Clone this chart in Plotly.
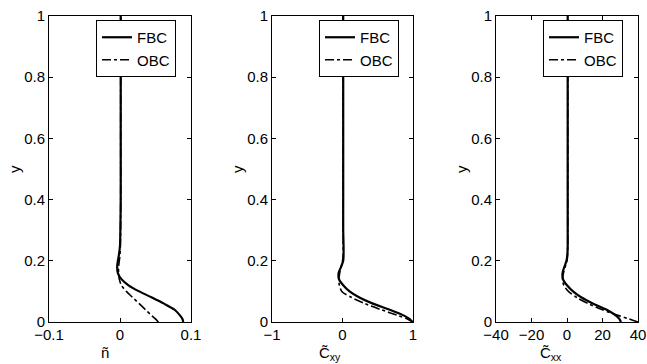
import plotly.graph_objects as go

# ---- data ----
y_vals = [0, 0.01, 0.02, 0.04, 0.06, 0.08, 0.10, 0.12, 0.14, 0.16, 0.18, 0.20,
          0.22, 0.25, 0.30, 0.40, 0.60, 0.80, 1.00]

n_fbc = [0.089, 0.088, 0.085, 0.077, 0.062, 0.045, 0.027, 0.012, 0.002, -0.003,
         -0.004, -0.003, -0.0015, 0.0, 0.0005, 0.001, 0.001, 0.001, 0.001]
n_obc = [0.054, 0.050, 0.045, 0.036, 0.027, 0.018, 0.009, 0.002, -0.001, -0.002,
         -0.002, -0.001, 0.0, 0.0005, 0.0008, 0.001, 0.001, 0.001, 0.001]

cxy_fbc = [0.99, 0.95, 0.88, 0.67, 0.43, 0.24, 0.10, 0.01, -0.05, -0.055,
           -0.02, 0.01, 0.015, 0.015, 0.01, 0.01, 0.01, 0.01, 0.01]
cxy_obc = [1.0, 0.92, 0.80, 0.55, 0.32, 0.13, -0.01, -0.045, -0.05, -0.04,
           -0.02, 0.0, 0.01, 0.01, 0.01, 0.01, 0.01, 0.01, 0.01]

cxx_fbc = [30.4, 29.5, 27.8, 22.4, 14.8, 8.2, 3.4, 0.0, -2.3, -2.5,
           -1.5, -0.3, 0.2, 0.4, 0.4, 0.4, 0.4, 0.4, 0.4]
cxx_obc = [40.0, 35.0, 29.5, 20.0, 12.0, 5.5, 0.8, -1.8, -2.5, -2.0,
           -1.0, 0.0, 0.3, 0.4, 0.4, 0.4, 0.4, 0.4, 0.4]

series_names = ["FBC", "OBC"]
x_titles = ["ñ", "C\u0303<sub>xy</sub>", "C\u0303<sub>xx</sub>"]
x_ranges = [[-0.1, 0.1], [-1, 1], [-40, 40]]
x_ticks = [[-0.1, 0, 0.1], [-1, 0, 1], [-40, -20, 0, 20, 40]]
y_ticks = [0, 0.2, 0.4, 0.6, 0.8, 1.0]

panels = [(n_fbc, n_obc), (cxy_fbc, cxy_obc), (cxx_fbc, cxx_obc)]

# ---- layout geometry ----
W, H = 647, 364
x_px = [(49, 191), (272, 413), (496, 638)]
y_top, y_bot = 16, 322
FONT = "Liberation Sans, Arial, Helvetica, sans-serif"

fig = go.Figure()
legend_names = ["legend", "legend2", "legend3"]
for i, (fbc, obc) in enumerate(panels):
    xa = "x" if i == 0 else f"x{i+1}"
    ya = "y" if i == 0 else f"y{i+1}"
    fig.add_trace(go.Scatter(x=fbc, y=y_vals, mode="lines", name=series_names[0],
                             line=dict(color="black", width=2.2, shape="spline", smoothing=0.8),
                             xaxis=xa, yaxis=ya, legend=legend_names[i]))
    fig.add_trace(go.Scatter(x=obc, y=y_vals, mode="lines", name=series_names[1],
                             line=dict(color="black", width=1.6, dash="dashdot",
                                       shape="spline", smoothing=0.8),
                             xaxis=xa, yaxis=ya, legend=legend_names[i]))

axis_common = dict(showline=True, linecolor="black", linewidth=1, mirror="allticks",
                   ticks="inside", ticklen=4, tickcolor="black", showgrid=False,
                   zeroline=False, tickfont=dict(family=FONT, size=15, color="black"),
                   automargin=False)

layout = dict(width=W, height=H, margin=dict(l=0, r=0, t=0, b=0),
              paper_bgcolor="white", plot_bgcolor="white",
              font=dict(family=FONT, size=15, color="black"))

annotations = []
title_x = [105, 330, 551]
for i in range(3):
    sfx = "" if i == 0 else str(i + 1)
    x0, x1 = x_px[i]
    layout["xaxis" + sfx] = dict(domain=[x0 / W, x1 / W], range=x_ranges[i],
                                 tickvals=x_ticks[i], anchor="y" + sfx,
                                 ticklabelstandoff=-1, **axis_common)
    layout["yaxis" + sfx] = dict(domain=[(H - y_bot) / H, (H - y_top) / H], range=[0, 1],
                                 tickvals=y_ticks, anchor="x" + sfx, **axis_common)
    layout[legend_names[i]] = dict(x=(x0 + 47) / W, y=(H - 20) / H, xanchor="left",
                                   yanchor="top", bgcolor="white", bordercolor="black",
                                   borderwidth=1, font=dict(family=FONT, size=15),
                                   tracegroupgap=0)
    annotations.append(dict(text="y", x=(x0 - 35) / W, y=(H - 169) / H, xref="paper",
                            yref="paper", xanchor="center", yanchor="middle",
                            showarrow=False, textangle=-90,
                            font=dict(family=FONT, size=15)))
    annotations.append(dict(text=x_titles[i], x=title_x[i] / W, y=(H - 342) / H,
                            xref="paper", yref="paper", xanchor="center", yanchor="top",
                            showarrow=False, font=dict(family=FONT, size=15)))

layout["annotations"] = annotations
fig.update_layout(**layout)
fig.write_html("out.html")
